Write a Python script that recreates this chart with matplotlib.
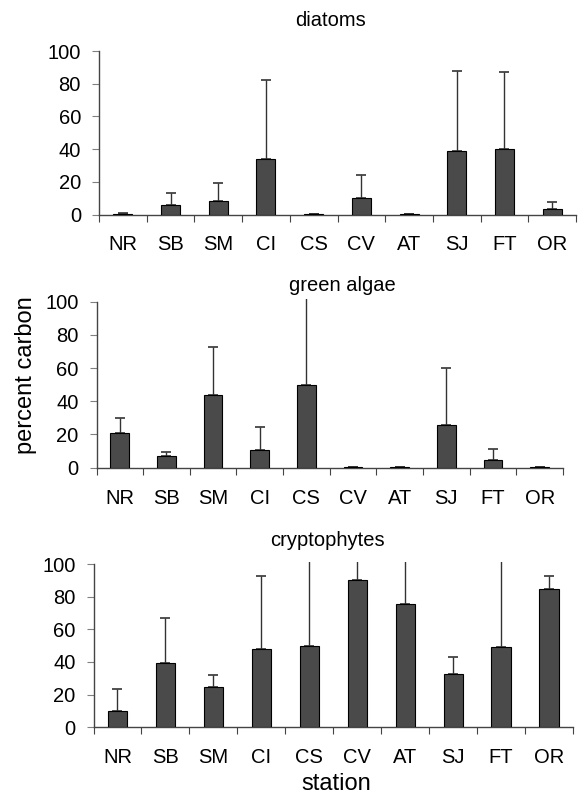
import matplotlib.pyplot as plt
import numpy as np

plt.rcParams['font.family'] = ['Liberation Sans', 'DejaVu Sans']

stations = ['NR', 'SB', 'SM', 'CI', 'CS', 'CV', 'AT', 'SJ', 'FT', 'OR']

# mean percent carbon and upper error bar end (values > 100 run off the axis)
diatoms = [0.3, 5.9, 8.3, 33.9, 0.3, 9.8, 0.3, 38.8, 40.2, 3.5]
diatoms_top = [0.8, 13.2, 19.5, 82.1, 0.3, 24.4, 0.3, 87.8, 87.2, 7.5]

green = [20.7, 7.2, 43.8, 10.4, 50.0, 0.2, 0.2, 25.7, 4.8, 0.2]
green_top = [30.1, 9.6, 72.9, 24.7, 130.0, 0.2, 0.2, 60.2, 11.0, 0.2]

crypto = [9.8, 39.5, 24.4, 47.7, 49.9, 90.2, 75.8, 32.4, 49.3, 84.7]
crypto_top = [23.2, 66.8, 32.2, 92.7, 130.0, 130.0, 130.0, 42.8, 130.0, 92.7]

panels = [
    ('diatoms', diatoms, diatoms_top),
    ('green algae', green, green_top),
    ('cryptophytes', crypto, crypto_top),
]

W, H = 578, 795
YTOP = 101.5
# pixel boxes: left, right, y of 0, y of 100
boxes = [(99, 576, 214.5, 51), (96.5, 563, 467.7, 301.7), (93.5, 573, 727.3, 564)]
titles_xy = [(331, 21), (342, 286), (327, 540)]

fig = plt.figure(figsize=(W / 100, H / 100), dpi=100)
axis_col = '#444444'
tick_col = '#808080'

for k, (name, vals, tops) in enumerate(panels):
    l, r, y0, y100 = boxes[k]
    h = (y0 - y100) * YTOP / 100
    ax = fig.add_axes([l / W, 1 - y0 / H, (r - l) / W, h / H])
    x = np.arange(len(stations))
    vals = np.array(vals)
    tops = np.array(tops)
    ax.bar(x, vals, width=0.4, color='#4a4a4a', edgecolor='black', linewidth=0.8, zorder=3)
    err = np.clip(tops - vals, 0, None)
    ax.errorbar(x, vals, yerr=[np.zeros_like(err), err], fmt='none', ecolor='#333333',
                elinewidth=1.0, capsize=3.5, capthick=1.2, zorder=2)
    ax.set_xlim(-0.5, len(stations) - 0.5)
    ax.set_ylim(0, YTOP)
    ax.set_yticks([0, 20, 40, 60, 80, 100])
    ax.set_xticks(np.arange(len(stations) + 1) - 0.5)
    ax.set_xticklabels([])
    ax.set_xticks(x, minor=True)
    ax.set_xticklabels(stations, minor=True)
    ax.tick_params(axis='x', which='minor', length=0, pad=15, labelsize=14.5)
    ax.tick_params(axis='x', which='major', length=5, direction='out', color=axis_col)
    ax.tick_params(axis='y', length=5, direction='out', color=tick_col, labelsize=14.5, pad=8)
    for s in ['top', 'right']:
        ax.spines[s].set_visible(False)
    ax.spines['left'].set_bounds(0, 100)
    for s in ['left', 'bottom']:
        ax.spines[s].set_color(axis_col)
        ax.spines[s].set_linewidth(1.0)
    tx, ty = titles_xy[k]
    fig.text(tx / W, 1 - ty / H, name, ha='center', va='center', fontsize=14.5)
    if k == 1:
        fig.text(26 / W, 1 - 375 / H, 'percent carbon', rotation=90, ha='center', va='center',
                 fontsize=17)
    if k == 2:
        fig.text(336 / W, 1 - 784 / H, 'station', ha='center', va='center', fontsize=17)

fig.savefig('out.png', dpi=100)
